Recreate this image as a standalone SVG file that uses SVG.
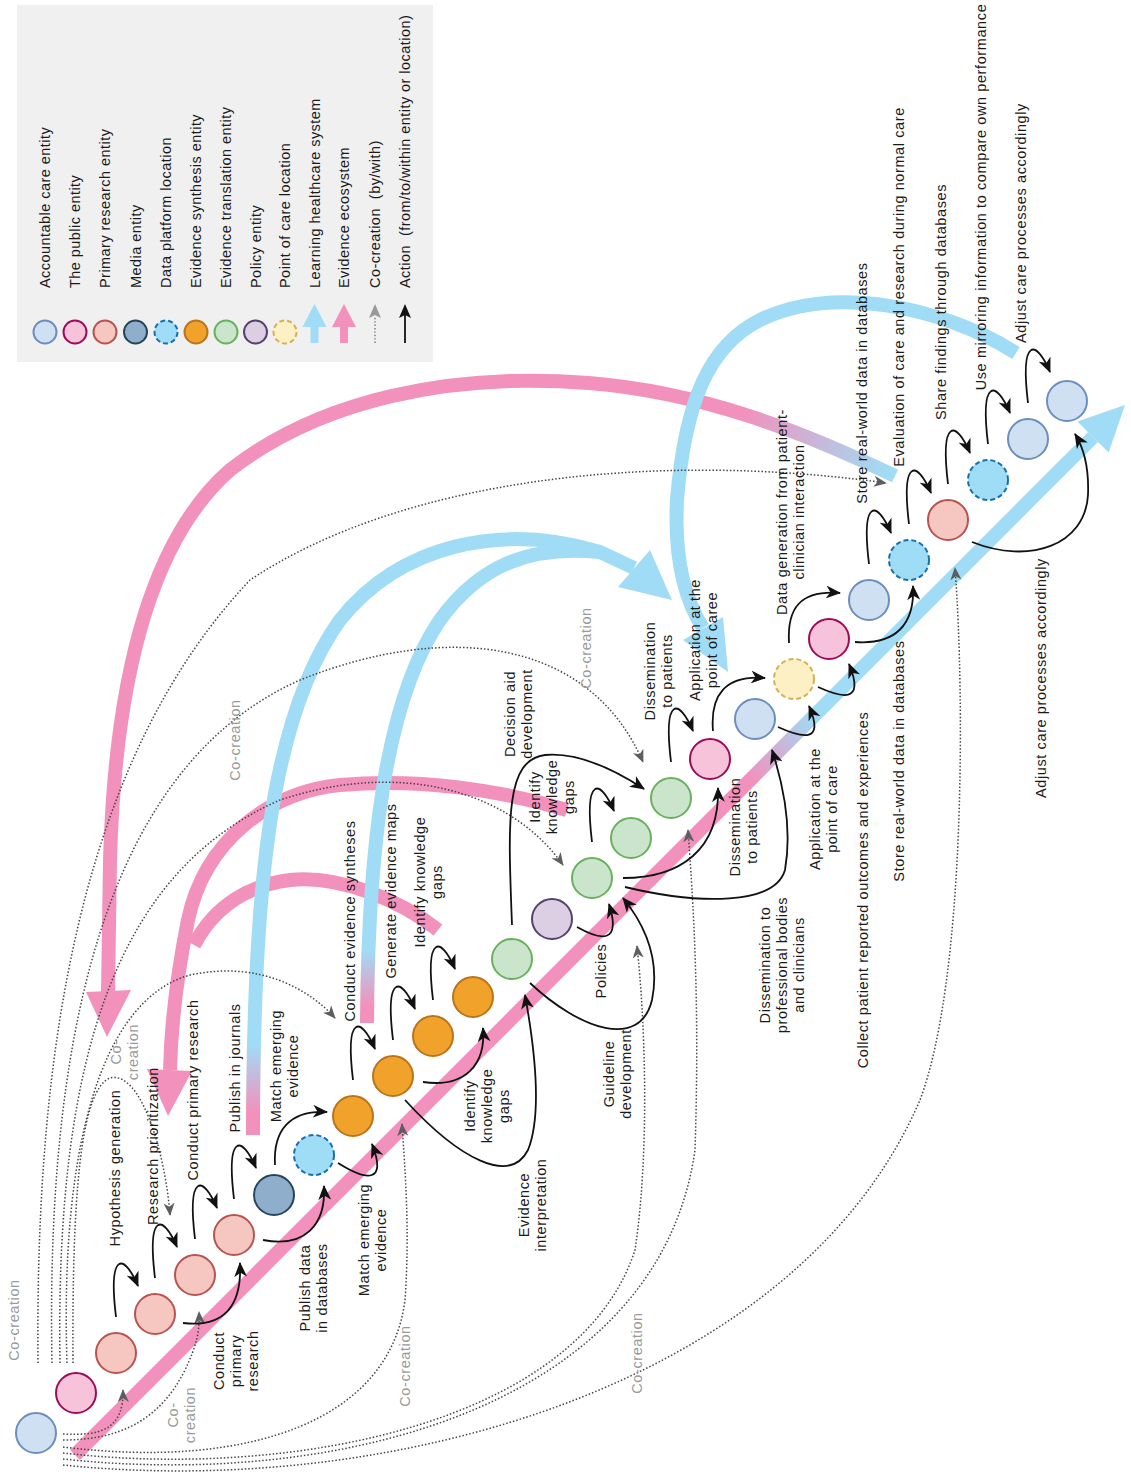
<svg xmlns="http://www.w3.org/2000/svg" width="1131" height="1483" viewBox="0 0 1131 1483">
  <defs>
    <style>
      .t{font-family:"Liberation Sans",Arial,sans-serif;font-size:14.5px;letter-spacing:0.6px;fill:#1a1a1a}
      .lt{letter-spacing:0.45px}
      .g{fill:#9a9a9a}
      .act{fill:none;stroke:#111;stroke-width:1.8;marker-end:url(#ah)}
      .co{fill:none;stroke:#444;stroke-width:1.5;stroke-dasharray:1.5 2;marker-end:url(#gh)}
      .band{fill:none;stroke-width:14;stroke-linecap:butt}
      .c{stroke-width:2}
      .acc{fill:#cfe0f2;stroke:#6c8ebf}
      .pub{fill:#f6c3da;stroke:#9c0c5a}
      .pri{fill:#f6c6c1;stroke:#b85450}
      .med{fill:#8eaecb;stroke:#26445c}
      .dat{fill:#9fdcf5;stroke:#1670b0;stroke-dasharray:5 3}
      .syn{fill:#f0a22b;stroke:#bb7419}
      .tra{fill:#cae5cb;stroke:#6ab15e}
      .pol{fill:#dccfe3;stroke:#54426c}
      .poc{fill:#fdf0c4;stroke:#d4b255;stroke-dasharray:5 3}
    </style>
    <marker id="ah" viewBox="0 0 14 12" refX="13" refY="6" markerWidth="15" markerHeight="13" markerUnits="userSpaceOnUse" orient="auto">
      <path d="M0,0 L14,6 L0,12 L4,6 z" fill="#111"/>
    </marker>
    <marker id="gh" viewBox="0 0 14 12" refX="13" refY="6" markerWidth="13" markerHeight="12" markerUnits="userSpaceOnUse" orient="auto">
      <path d="M0,0 L14,6 L0,12 L4,6 z" fill="#5c5f61"/>
    </marker>
    <linearGradient id="gDiag" gradientUnits="userSpaceOnUse" x1="750" y1="780" x2="815" y2="715">
      <stop offset="0" stop-color="#f291bc"/>
      <stop offset="1" stop-color="#a0dcf5"/>
    </linearGradient>
    <linearGradient id="gEco" gradientUnits="userSpaceOnUse" x1="745" y1="405" x2="890" y2="470">
      <stop offset="0" stop-color="#f291bc"/>
      <stop offset="1" stop-color="#a0dcf5"/>
    </linearGradient>
    <linearGradient id="gLhs1" gradientUnits="userSpaceOnUse" x1="0" y1="1112" x2="0" y2="1045">
      <stop offset="0" stop-color="#f291bc"/>
      <stop offset="1" stop-color="#a0dcf5"/>
    </linearGradient>
    <linearGradient id="gLhs2" gradientUnits="userSpaceOnUse" x1="0" y1="1005" x2="0" y2="950">
      <stop offset="0" stop-color="#f291bc"/>
      <stop offset="1" stop-color="#a0dcf5"/>
    </linearGradient>
  </defs>

  <rect width="1131" height="1483" fill="#ffffff"/>

  <!-- legend -->
  <g id="legend">
    <rect x="17" y="5" width="416" height="357" fill="#f0f0f0"/>
    <circle class="c acc" cx="45" cy="332" r="11.5"/>
    <circle class="c pub" cx="75" cy="332" r="11.5"/>
    <circle class="c pri" cx="105" cy="332" r="11.5"/>
    <circle class="c med" cx="135.5" cy="332" r="11.5"/>
    <circle class="c dat" cx="166" cy="332" r="11.5"/>
    <circle class="c syn" cx="196" cy="332" r="11.5"/>
    <circle class="c tra" cx="226" cy="332" r="11.5"/>
    <circle class="c pol" cx="255.5" cy="332" r="11.5"/>
    <circle class="c poc" cx="285" cy="332" r="11.5"/>
    <path d="M310.5,343 L310.5,327 L302.5,327 L314.5,304 L326.5,327 L318.5,327 L318.5,343 z" fill="#a0dcf5"/>
    <path d="M340,343 L340,327 L332,327 L344,304 L356,327 L348,327 L348,343 z" fill="#f291bc"/>
    <path d="M375,343 L375,316" fill="none" stroke="#777" stroke-width="1.4" stroke-dasharray="1.4 2"/>
    <path d="M369,318 L375,304 L381,318 L375,315 z" fill="#999"/>
    <path d="M405,343 L405,314" fill="none" stroke="#111" stroke-width="1.8"/>
    <path d="M399,318 L405,304 L411,318 L405,315 z" fill="#111"/>
    <g class="t lt">
      <text transform="translate(50,288) rotate(-90)">Accountable care entity</text>
      <text transform="translate(80,288) rotate(-90)">The public entity</text>
      <text transform="translate(110,288) rotate(-90)">Primary research entity</text>
      <text transform="translate(140.5,288) rotate(-90)">Media entity</text>
      <text transform="translate(171,288) rotate(-90)">Data platform location</text>
      <text transform="translate(201,288) rotate(-90)">Evidence synthesis entity</text>
      <text transform="translate(231,288) rotate(-90)">Evidence translation entity</text>
      <text transform="translate(260.5,288) rotate(-90)">Policy entity</text>
      <text transform="translate(290,288) rotate(-90)">Point of care location</text>
      <text transform="translate(319.5,288) rotate(-90)">Learning healthcare system</text>
      <text transform="translate(349,288) rotate(-90)">Evidence ecosystem</text>
      <text transform="translate(380,288) rotate(-90)" xml:space="preserve">Co-creation  (by/with)</text>
      <text transform="translate(410,288) rotate(-90)" xml:space="preserve">Action  (from/to/within entity or location)</text>
    </g>
  </g>

  <!-- connectors: ecosystem bands, dotted co-creation links, action arrows -->
  <g id="connectors">
    <!-- main diagonal band -->
    <path class="band" d="M75,1455 L1093,437" stroke="url(#gDiag)"/>
    <path d="M1077.4,421.4 L1125,405 L1108.6,452.6 z" fill="#a0dcf5"/>

    <!-- evidence ecosystem arcs -->
    <path class="band" d="M895,476 C800,430 700,392 589,383 C450,372 320,400 230,470 C150,540 115,680 110,860 L108,992" stroke="url(#gEco)"/>
    <path d="M86,992 L107,1037 L131,990 z" fill="#f291bc"/>
    <path class="band" d="M567,810 C500,790 420,778 340,785 C270,792 205,840 188,920 C176,980 171,1030 170,1070" stroke="#f291bc"/>
    <path class="band" d="M438,930 C400,900 340,875 290,880 C250,885 215,905 194,945" stroke="#f291bc"/>
    <path d="M147,1069 L168,1116 L192,1071 z" fill="#f291bc"/>

    <!-- learning healthcare system arcs -->
    <path class="band" d="M253,1135 C253,900 268,720 340,620 C400,545 500,522 600,552 L634,568" stroke="url(#gLhs1)"/>
    <path class="band" d="M367,1023 C368,850 385,700 440,620 C480,565 530,545 600,552" stroke="url(#gLhs2)"/>
    <path d="M618,587 L672,600 L650,550 z" fill="#a0dcf5"/>
    <path class="band" d="M1016,353 C940,305 830,285 760,320 C710,345 685,400 677,500 C674,560 685,600 703,628" stroke="#a0dcf5"/>
    <path d="M683,640 L728,672 L723,617 z" fill="#a0dcf5"/>

    <!-- co-creation links -->
    <path class="co" d="M38,1363 C35,1050 80,760 250,580 C400,480 650,450 886,483"/>
    <path class="co" d="M52,1363 C45,1000 120,760 300,680 C450,620 590,640 643,762"/>
    <path class="co" d="M60,1363 C55,1050 120,870 280,800 C400,760 510,790 563,865"/>
    <path class="co" d="M67,1363 C60,1150 100,1000 190,975 C260,960 310,990 335,1018"/>
    <path class="co" d="M73,1363 C72,1200 80,1090 110,1078 C140,1070 165,1150 170,1215"/>
    <path class="co" d="M63,1434 C100,1436 124,1430 123,1390"/>
    <path class="co" d="M63,1440 C120,1440 160,1420 185,1370 C197,1345 200,1330 199,1312"/>
    <path class="co" d="M63,1447 C250,1470 390,1420 405,1300 C410,1230 405,1170 402,1124"/>
    <path class="co" d="M63,1453 C300,1480 580,1420 635,1250 C650,1150 645,1020 637,946"/>
    <path class="co" d="M63,1459 C350,1490 660,1400 695,1150 C700,1000 693,900 688,830"/>
    <path class="co" d="M63,1465 C400,1500 800,1380 920,1100 C965,980 965,700 955,568"/>

    <!-- actions between neighbouring entities -->
    <path class="act" d="M116,1317 C108,1251 124,1253 138,1286"/>
    <path class="act" d="M155,1278 C147,1212 163,1214 177,1247"/>
    <path class="act" d="M195,1239 C187,1173 203,1175 217,1208"/>
    <path class="act" d="M234,1199 C226,1133 242,1135 256,1168"/>
    <path class="act" d="M353,1080 C345,1014 361,1016 375,1049"/>
    <path class="act" d="M393,1040 C385,974 401,976 415,1009"/>
    <path class="act" d="M433,1000 C425,934 441,936 455,969"/>
    <path class="act" d="M592,842 C584,776 600,778 614,811"/>
    <path class="act" d="M671,762 C663,696 679,698 693,731"/>
    <path class="act" d="M869,564 C861,498 877,500 891,533"/>
    <path class="act" d="M909,524 C901,458 917,460 931,493"/>
    <path class="act" d="M948,484 C940,418 956,420 970,453"/>
    <path class="act" d="M988,444 C980,378 996,380 1010,413"/>
    <path class="act" d="M1028,403 C1020,337 1036,339 1050,372"/>
    <path class="act" d="M275,1165 C273,1130 290,1110 327,1112"/>
    <path class="act" d="M512,925 C508,820 505,760 545,755 C580,752 615,770 644,789"/>
    <path class="act" d="M713,731 C710,695 725,675 765,678"/>
    <path class="act" d="M789,643 C787,608 800,590 840,593"/>
    <!-- actions routed below the diagonal -->
    <path class="act" d="M183,1323 C225,1328 242,1305 240,1263"/>
    <path class="act" d="M263,1240 C305,1248 326,1225 324,1186"/>
    <path class="act" d="M338,1163 C365,1180 388,1185 372,1144"/>
    <path class="act" d="M423,1082 C465,1088 486,1065 483,1028"/>
    <path class="act" d="M405,1100 C460,1160 510,1185 528,1150 C542,1115 535,1050 525,995"/>
    <path class="act" d="M577,927 C600,940 622,945 609,904"/>
    <path class="act" d="M530,983 C580,1030 640,1050 652,1000 C660,960 645,925 623,898"/>
    <path class="act" d="M623,878 C680,878 720,850 718,788"/>
    <path class="act" d="M625,887 C700,905 775,905 785,870 C792,830 785,790 772,750"/>
    <path class="act" d="M778,727 C800,737 826,745 809,706"/>
    <path class="act" d="M818,687 C840,697 866,705 849,664"/>
    <path class="act" d="M855,642 C895,645 915,625 913,586"/>
    <path class="act" d="M972,542 C1030,565 1085,545 1088,495 C1089,470 1085,450 1075,434"/>
  </g>

  <!-- entities along the diagonal -->
  <g id="n1"><circle class="c acc" cx="36" cy="1433" r="20"/></g>
  <g id="n2"><circle class="c pub" cx="76" cy="1393" r="20"/></g>
  <g id="n3"><circle class="c pri" cx="116" cy="1353" r="20"/></g>
  <g id="n4"><circle class="c pri" cx="155" cy="1314" r="20"/></g>
  <g id="n5"><circle class="c pri" cx="195" cy="1275" r="20"/></g>
  <g id="n6"><circle class="c pri" cx="234" cy="1235" r="20"/></g>
  <g id="n7"><circle class="c med" cx="274" cy="1195" r="20"/></g>
  <g id="n8"><circle class="c dat" cx="314" cy="1155" r="20"/></g>
  <g id="n9"><circle class="c syn" cx="353" cy="1116" r="20"/></g>
  <g id="n10"><circle class="c syn" cx="393" cy="1076" r="20"/></g>
  <g id="n11"><circle class="c syn" cx="433" cy="1036" r="20"/></g>
  <g id="n12"><circle class="c syn" cx="473" cy="997" r="20"/></g>
  <g id="n13"><circle class="c tra" cx="512" cy="959" r="20"/></g>
  <g id="n14"><circle class="c pol" cx="552" cy="919" r="20"/></g>
  <g id="n15"><circle class="c tra" cx="592" cy="878" r="20"/></g>
  <g id="n16"><circle class="c tra" cx="631" cy="838" r="20"/></g>
  <g id="n17"><circle class="c tra" cx="671" cy="798" r="20"/></g>
  <g id="n18"><circle class="c pub" cx="710" cy="759" r="20"/></g>
  <g id="n19"><circle class="c acc" cx="755" cy="719" r="20"/></g>
  <g id="n20"><circle class="c poc" cx="794" cy="679" r="20"/></g>
  <g id="n21"><circle class="c pub" cx="829" cy="639" r="20"/></g>
  <g id="n22"><circle class="c acc" cx="869" cy="600" r="20"/></g>
  <g id="n23"><circle class="c dat" cx="909" cy="560" r="20"/></g>
  <g id="n24"><circle class="c pri" cx="948" cy="520" r="20"/></g>
  <g id="n25"><circle class="c dat" cx="988" cy="480" r="20"/></g>
  <g id="n26"><circle class="c acc" cx="1028" cy="439" r="20"/></g>
  <g id="n27"><circle class="c acc" cx="1067" cy="401" r="20"/></g>

  <!-- labels -->
  <g id="labels" class="t" text-anchor="middle">
    <text class="g" transform="translate(19,1320) rotate(-90)">Co-creation</text>
    <text transform="translate(120,1168) rotate(-90)">Hypothesis generation</text>
    <text transform="translate(158,1146) rotate(-90)">Research prioritization</text>
    <text transform="translate(198,1090) rotate(-90)">Conduct primary research</text>
    <text transform="translate(240,1068) rotate(-90)">Publish in journals</text>
    <text transform="translate(281,1066) rotate(-90)"><tspan x="0" y="0">Match emerging</tspan><tspan x="0" y="17">evidence</tspan></text>
    <text class="g" transform="translate(121,1052) rotate(-90)"><tspan x="0" y="0">Co-</tspan><tspan x="0" y="17">creation</tspan></text>
    <text transform="translate(224,1361) rotate(-90)"><tspan x="0" y="0">Conduct</tspan><tspan x="0" y="17">primary</tspan><tspan x="0" y="34">research</tspan></text>
    <text class="g" transform="translate(178,1415) rotate(-90)"><tspan x="0" y="0">Co-</tspan><tspan x="0" y="17">creation</tspan></text>
    <text transform="translate(310,1288) rotate(-90)"><tspan x="0" y="0">Publish data</tspan><tspan x="0" y="17">in databases</tspan></text>
    <text transform="translate(369,1240) rotate(-90)"><tspan x="0" y="0">Match emerging</tspan><tspan x="0" y="17">evidence</tspan></text>
    <text transform="translate(355,921) rotate(-90)">Conduct evidence syntheses</text>
    <text transform="translate(396,891) rotate(-90)">Generate evidence maps</text>
    <text transform="translate(425,882) rotate(-90)"><tspan x="0" y="0">Identify knowledge</tspan><tspan x="0" y="17">gaps</tspan></text>
    <text transform="translate(475,1106) rotate(-90)"><tspan x="0" y="0">Identify</tspan><tspan x="0" y="17">knowledge</tspan><tspan x="0" y="34">gaps</tspan></text>
    <text transform="translate(606,971) rotate(-90)">Policies</text>
    <text transform="translate(614,1074) rotate(-90)"><tspan x="0" y="0">Guideline</tspan><tspan x="0" y="17">development</tspan></text>
    <text transform="translate(529,1205) rotate(-90)"><tspan x="0" y="0">Evidence</tspan><tspan x="0" y="17">interpretation</tspan></text>
    <text transform="translate(515,714) rotate(-90)"><tspan x="0" y="0">Decision aid</tspan><tspan x="0" y="17">development</tspan></text>
    <text transform="translate(540,797) rotate(-90)"><tspan x="0" y="0">Identify</tspan><tspan x="0" y="17">knowledge</tspan><tspan x="0" y="34">gaps</tspan></text>
    <text class="g" transform="translate(240,740) rotate(-90)">Co-creation</text>
    <text class="g" transform="translate(591,648) rotate(-90)">Co-creation</text>
    <text transform="translate(655,671) rotate(-90)"><tspan x="0" y="0">Dissemination</tspan><tspan x="0" y="17">to patients</tspan></text>
    <text transform="translate(700,640) rotate(-90)"><tspan x="0" y="0">Application at the</tspan><tspan x="0" y="17">point of caree</tspan></text>
    <text transform="translate(740,827) rotate(-90)"><tspan x="0" y="0">Dissemination</tspan><tspan x="0" y="17">to patients</tspan></text>
    <text transform="translate(770,965) rotate(-90)"><tspan x="0" y="0">Dissemination to</tspan><tspan x="0" y="17">professional bodies</tspan><tspan x="0" y="34">and clinicians</tspan></text>
    <text transform="translate(820,809) rotate(-90)"><tspan x="0" y="0">Application at the</tspan><tspan x="0" y="17">point of care</tspan></text>
    <text transform="translate(868,890) rotate(-90)">Collect patient reported outcomes and experiences</text>
    <text transform="translate(904,761) rotate(-90)">Store real-world data in databases</text>
    <text transform="translate(787,512) rotate(-90)"><tspan x="0" y="0">Data generation from patient-</tspan><tspan x="0" y="17">clinician interaction</tspan></text>
    <text transform="translate(867,383) rotate(-90)">Store real-world data in databases</text>
    <text transform="translate(904,287) rotate(-90)">Evaluation of care and research during normal care</text>
    <text transform="translate(946,302) rotate(-90)">Share findings through databases</text>
    <text transform="translate(986,197) rotate(-90)">Use mirroring information to compare own performance</text>
    <text transform="translate(1026,223) rotate(-90)">Adjust care processes accordingly</text>
    <text transform="translate(1046,678) rotate(-90)">Adjust care processes accordingly</text>
    <text class="g" transform="translate(642,1353) rotate(-90)">Co-creation</text>
    <text class="g" transform="translate(410,1366) rotate(-90)">Co-creation</text>
  </g>
</svg>
